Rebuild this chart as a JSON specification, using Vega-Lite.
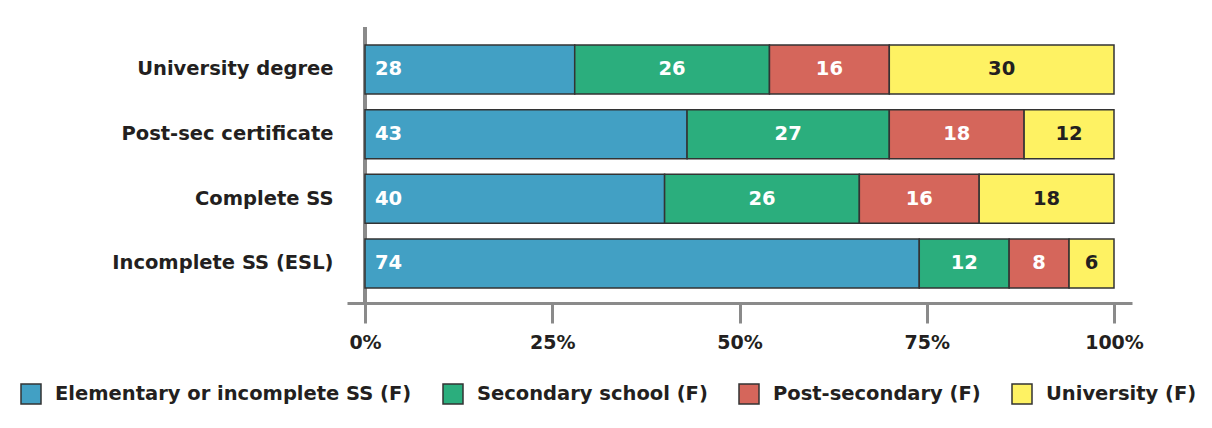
{
  "$schema": "https://vega.github.io/schema/vega-lite/v6.json",
  "width": 785,
  "height": 276,
  "autosize": {"type": "none"},
  "padding": {"left": 347, "top": 27, "right": 80, "bottom": 125},
  "background": "white",
  "config": {"view": {"stroke": null}, "font": "DejaVu Sans"},
  "data": {
    "values": [
      {"cat": "University degree", "edu": "Elementary or incomplete SS (F)", "k": 1, "v": 28},
      {"cat": "University degree", "edu": "Secondary school (F)", "k": 2, "v": 26},
      {"cat": "University degree", "edu": "Post-secondary (F)", "k": 3, "v": 16},
      {"cat": "University degree", "edu": "University (F)", "k": 4, "v": 30},
      {"cat": "Post-sec certificate", "edu": "Elementary or incomplete SS (F)", "k": 1, "v": 43},
      {"cat": "Post-sec certificate", "edu": "Secondary school (F)", "k": 2, "v": 27},
      {"cat": "Post-sec certificate", "edu": "Post-secondary (F)", "k": 3, "v": 18},
      {"cat": "Post-sec certificate", "edu": "University (F)", "k": 4, "v": 12},
      {"cat": "Complete SS", "edu": "Elementary or incomplete SS (F)", "k": 1, "v": 40},
      {"cat": "Complete SS", "edu": "Secondary school (F)", "k": 2, "v": 26},
      {"cat": "Complete SS", "edu": "Post-secondary (F)", "k": 3, "v": 16},
      {"cat": "Complete SS", "edu": "University (F)", "k": 4, "v": 18},
      {"cat": "Incomplete SS (ESL)", "edu": "Elementary or incomplete SS (F)", "k": 1, "v": 74},
      {"cat": "Incomplete SS (ESL)", "edu": "Secondary school (F)", "k": 2, "v": 12},
      {"cat": "Incomplete SS (ESL)", "edu": "Post-secondary (F)", "k": 3, "v": 8},
      {"cat": "Incomplete SS (ESL)", "edu": "University (F)", "k": 4, "v": 6}
    ]
  },
  "transform": [
    {"stack": "v", "groupby": ["cat"], "sort": [{"field": "k", "order": "ascending"}], "offset": "normalize", "as": ["x0", "x1"]},
    {"calculate": "(datum.x0 + datum.x1) / 2", "as": "xm"}
  ],
  "layer": [
    {
      "mark": {"type": "rule", "color": "#8a8a8a", "strokeWidth": 3},
      "encoding": {"x": {"datum": 0, "type": "quantitative"}}
    },
    {
      "mark": {"type": "bar", "stroke": "#333333", "strokeWidth": 1.5},
      "encoding": {
        "y": {
          "field": "cat", "type": "nominal",
          "sort": ["University degree", "Post-sec certificate", "Complete SS", "Incomplete SS (ESL)"],
          "scale": {"paddingInner": 0.242, "paddingOuter": 0.255, "align": 0.545},
          "axis": {"title": null, "domain": false, "ticks": false, "labelFontSize": 19.5, "labelFontWeight": "bold", "labelColor": "#231f20", "labelPadding": 14, "labelLimit": 400, "labelFont": "DejaVu Sans"}
        },
        "x": {
          "field": "x0", "type": "quantitative",
          "scale": {"domain": [0, 1], "padding": 18, "nice": false, "zero": false},
          "axis": {"title": null, "grid": false, "values": [0, 0.25, 0.5, 0.75, 1], "format": ".0%", "domainColor": "#8a8a8a", "domainWidth": 3, "tickColor": "#8a8a8a", "tickWidth": 3, "tickSize": 20, "labelFont": "DejaVu Sans", "labelFontSize": 19, "labelFontWeight": "bold", "labelColor": "#231f20", "labelPadding": 10, "labelFlush": false}
        },
        "x2": {"field": "x1"},
        "color": {
          "field": "edu", "type": "nominal",
          "scale": {
            "domain": ["Elementary or incomplete SS (F)", "Secondary school (F)", "Post-secondary (F)", "University (F)"],
            "range": ["#42a0c4", "#2bae7d", "#d5665b", "#fef263"]
          },
          "legend": {"orient": "none", "legendX": -327, "legendY": 356, "direction": "horizontal", "title": null, "symbolType": "square", "symbolSize": 400, "symbolStrokeColor": "#333333", "symbolStrokeWidth": 1.5, "symbolOpacity": 1, "labelFontSize": 19.5, "labelFontWeight": "bold", "labelColor": "#231f20", "labelFont": "DejaVu Sans", "labelOffset": 13, "columnPadding": 28, "labelLimit": 500}
        }
      }
    },
    {
      "transform": [{"filter": "datum.k == 1"}],
      "mark": {"type": "text", "align": "left", "baseline": "middle", "dx": 10, "fontSize": 19.5, "fontWeight": "bold", "color": "white", "font": "DejaVu Sans"},
      "encoding": {
        "y": {"field": "cat", "type": "nominal", "sort": ["University degree", "Post-sec certificate", "Complete SS", "Incomplete SS (ESL)"]},
        "x": {"field": "x0", "type": "quantitative"},
        "text": {"field": "v", "type": "quantitative"}
      }
    },
    {
      "transform": [{"filter": "datum.k > 1"}],
      "mark": {"type": "text", "align": "center", "baseline": "middle", "fontSize": 19.5, "fontWeight": "bold", "font": "DejaVu Sans"},
      "encoding": {
        "y": {"field": "cat", "type": "nominal", "sort": ["University degree", "Post-sec certificate", "Complete SS", "Incomplete SS (ESL)"]},
        "x": {"field": "xm", "type": "quantitative"},
        "text": {"field": "v", "type": "quantitative"},
        "color": {"condition": {"test": "datum.k == 4", "value": "#231f20"}, "value": "white"}
      }
    }
  ]
}
